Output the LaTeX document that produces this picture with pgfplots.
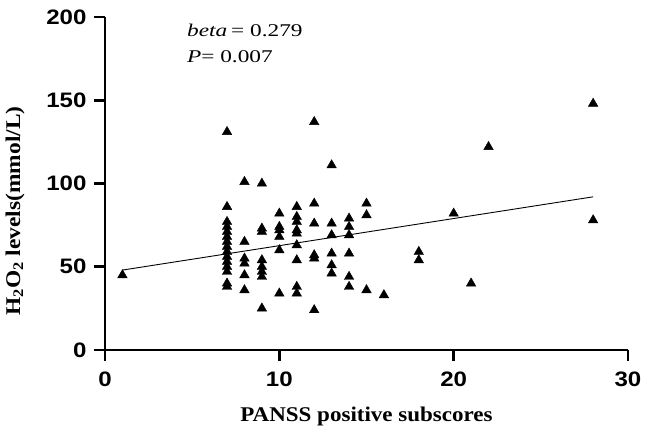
\documentclass[border=0pt]{standalone}
\usepackage{pgfplots}
\pgfplotsset{compat=1.18}
\usepackage{fontspec}
\setmainfont{Liberation Serif}
\setsansfont{Liberation Sans}
\begin{document}
\begin{tikzpicture}
\useasboundingbox (-105bp,-91bp) rectangle (545bp,350bp);
\begin{axis}[
  at={(0,0)}, anchor=south west,
  scale only axis, width=523bp, height=333bp,
  xmin=0, xmax=30, ymin=0, ymax=200,
  axis lines=left,
  axis line style={-, line width=2.6pt},
  every tick/.style={black, line width=2.6pt},
  tick align=outside, major tick length=11bp,
  xtick={0,10,20,30}, ytick={0,50,100,150,200},
  xticklabel={\scalebox{1.15}[1]{\pgfmathprintnumber{\tick}}},
  yticklabel={\scalebox{1.15}[1]{\pgfmathprintnumber{\tick}}},
  tick label style={font=\sffamily\bfseries\fontsize{21}{21}\selectfont},
  xticklabel style={yshift=-7bp},
  yticklabel style={xshift=-4bp},
  /pgf/number format/assume math mode=true,
  xlabel={\scalebox{1.1}[1]{PANSS positive subscores}},
  ylabel={\scalebox{1.12}[1]{H\textsubscript{2}O\textsubscript{2} levels(mmol/L)}},
  label style={font=\bfseries\fontsize{21}{21}\selectfont},
  xlabel style={at={(axis description cs:0.5,-0.2)}, anchor=center},
  ylabel style={at={(axis description cs:-0.172,0.417)}, anchor=center},
  clip=false,
]
\addplot[only marks, mark=triangle*, mark size=5.5bp, black] coordinates {
 (1,45)
 (7,131) (7,86) (7,77) (7,74) (7,71) (7,68) (7,65) (7,62) (7,59) (7,56) (7,53) (7,50) (7,47) (7,40) (7,38)
 (8,101) (8,65) (8,55) (8,52) (8,45) (8,36)
 (9,100) (9,73) (9,71) (9,54) (9,50) (9,47) (9,44) (9,25)
 (10,82) (10,74) (10,72) (10,68) (10,60) (10,34)
 (11,86) (11,80) (11,77) (11,72) (11,70) (11,63) (11,54) (11,38) (11,34)
 (12,137) (12,88) (12,76) (12,57) (12,55) (12,24)
 (13,111) (13,76) (13,69) (13,58) (13,51) (13,46)
 (14,79) (14,74) (14,69) (14,58) (14,44) (14,38)
 (15,88) (15,81) (15,36)
 (16,33)
 (18,59) (18,54)
 (20,82)
 (21,40)
 (22,122)
 (28,148) (28,78)
};
\addplot[black, line width=0.9pt] coordinates {(1,48) (28,92)};
\node[anchor=base west, font=\fontsize{18}{20}\selectfont, inner sep=0pt] at (axis cs:4.7,188) {\scalebox{1.3}[1]{\textit{beta}\,= 0.279}};
\node[anchor=base west, font=\fontsize{18}{20}\selectfont, inner sep=0pt] at (axis cs:4.7,172.5) {\scalebox{1.3}[1]{\textit{P}= 0.007}};
\end{axis}
\end{tikzpicture}
\end{document}
